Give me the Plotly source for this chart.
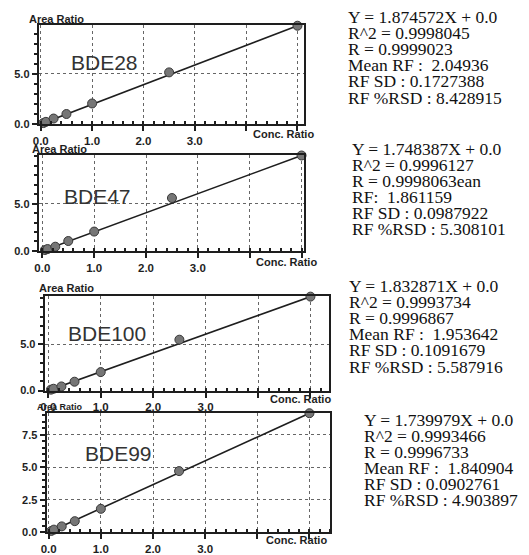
import plotly.graph_objects as go

# The page body has an 8px default margin, so the figure is drawn 8px in
# from the top-left corner; size it to fill the rest of the 529x555 window.
OFF = 8
W, H = 529 - OFF, 555 - OFF

# ---------------- data ----------------
compounds = ["BDE28", "BDE47", "BDE100", "BDE99"]
conc_ratio = [0.05, 0.1, 0.25, 0.5, 1.0, 2.5, 5.0]
area_bde28 = [0.10, 0.22, 0.55, 1.00, 2.05, 5.15, 9.80]
area_bde47 = [0.10, 0.20, 0.45, 1.05, 2.05, 5.60, 10.10]
area_bde100 = [0.10, 0.20, 0.45, 0.96, 2.00, 5.50, 10.15]
area_bde99 = [0.10, 0.20, 0.45, 0.85, 1.80, 4.70, 9.15]
fit_x = [0.0, 5.0]
fit_end_bde28 = 9.80
fit_end_bde47 = 10.10
fit_end_bde100 = 10.15
fit_end_bde99 = 9.15

x_tick_vals = [0, 1, 2, 3, 4, 5]
x_tick_text = ["0.0", "1.0", "2.0", "3.0", "", ""]
y_ticks_std = [0, 5]
y_ticks_std_text = ["0.0", "5.0"]
y_ticks_99 = [0, 2.5, 5, 7.5]
y_ticks_99_text = ["0.0", "2.5", "5.0", "7.5"]

stats_bde28 = ["Y = 1.874572X + 0.0", "R^2 = 0.9998045", "R = 0.9999023",
               "Mean RF :  2.04936", "RF SD : 0.1727388", "RF %RSD : 8.428915"]
stats_bde47 = ["Y = 1.748387X + 0.0", "R^2 = 0.9996127", "R = 0.9998063ean",
               "RF:  1.861159", "RF SD : 0.0987922", "RF %RSD : 5.308101"]
stats_bde100 = ["Y = 1.832871X + 0.0", "R^2 = 0.9993734", "R = 0.9996867",
                "Mean RF :  1.953642", "RF SD : 0.1091679", "RF %RSD : 5.587916"]
stats_bde99 = ["Y = 1.739979X + 0.0", "R^2 = 0.9993466", "R = 0.9996733",
               "Mean RF :  1.840904", "RF SD : 0.0902761", "RF %RSD : 4.903897"]


def px(x):
    return (x - OFF) / W


def py(y):
    return 1 - (y - OFF) / H


# ---------------- layout geometry (window pixels) ----------------
panels = [
    dict(name=compounds[0], y=area_bde28, fe=fit_end_bde28, box=(33, 301, 25, 126),
         xr=(-0.04, 5.12), yr=(0, 9.9), yt=y_ticks_std, ytt=y_ticks_std_text,
         label=(100, 63), area=(51, 19, 11), conc=(281, 136), stats=stats_bde28, st=(344, 17.5)),
    dict(name=compounds[1], y=area_bde47, fe=fit_end_bde47, box=(33, 301, 157, 255),
         xr=(-0.07, 5.04), yr=(0, 10.2), yt=y_ticks_std, ytt=y_ticks_std_text,
         label=(92, 200), area=(54, 151.5, 11), conc=(284, 266), stats=stats_bde47, st=(348, 151)),
    dict(name=compounds[2], y=area_bde100, fe=fit_end_bde100, box=(39, 327, 301, 397),
         xr=(-0.07, 5.36), yr=(0, 10.2), yt=y_ticks_std, ytt=y_ticks_std_text,
         label=(102, 339), area=(61, 293, 11), conc=(298, 406), stats=stats_bde100, st=(345, 291)),
    dict(name=compounds[3], y=area_bde99, fe=fit_end_bde99, box=(41, 328, 420, 541),
         xr=(-0.04, 5.4), yr=(0, 9.15), yt=y_ticks_99, ytt=y_ticks_99_text,
         label=(114, 461), area=(55, 414, 9), conc=(294, 549), stats=stats_bde99, st=(360, 427)),
]

INK = "#1e1e1e"
fig = go.Figure()
annotations = []
layout = dict(width=W, height=H, margin=dict(l=0, r=0, t=0, b=0),
              paper_bgcolor="white", plot_bgcolor="white", showlegend=False)

for i, p in enumerate(panels):
    n = "" if i == 0 else str(i + 1)
    xa, ya = "x" + n, "y" + n
    l, r, t, b = p["box"]
    fig.add_trace(go.Scatter(x=fit_x, y=[0, p["fe"]], mode="lines", xaxis=xa, yaxis=ya,
                             line=dict(color=INK, width=1.6), hoverinfo="skip",
                             cliponaxis=False))
    fig.add_trace(go.Scatter(x=conc_ratio, y=p["y"], mode="markers", xaxis=xa, yaxis=ya,
                             marker=dict(size=9, color="#767676", line=dict(color="#383838", width=1)),
                             cliponaxis=False))
    layout["xaxis" + n] = dict(
        domain=[px(l), px(r)], range=list(p["xr"]), anchor=ya,
        tickvals=x_tick_vals, ticktext=x_tick_text, ticks="outside", ticklen=5,
        tickwidth=1.5, tickcolor=INK,
        minor=dict(dtick=0.2, tick0=0, ticks="inside", ticklen=3, tickcolor=INK, showgrid=False),
        showline=True, linecolor=INK, linewidth=2, mirror=True,
        showgrid=True, gridcolor="#666666", griddash="dot", gridwidth=1,
        zeroline=False, tickfont=dict(family="Liberation Sans", size=11.5, color=INK, weight="bold"),
        fixedrange=True)
    layout["yaxis" + n] = dict(
        domain=[py(b), py(t)], range=list(p["yr"]), anchor=xa,
        tickvals=p["yt"], ticktext=p["ytt"], ticks="outside", ticklen=5,
        tickwidth=1.5, tickcolor=INK,
        minor=dict(dtick=1 if i < 3 else 0.5, tick0=0, ticks="outside", ticklen=3,
                   tickcolor=INK, showgrid=False),
        showline=True, linecolor=INK, linewidth=2, mirror=True,
        showgrid=True, gridcolor="#666666", griddash="dot", gridwidth=1,
        zeroline=False, tickfont=dict(family="Liberation Sans", size=11, color=INK, weight="bold"),
        fixedrange=True)
    # compound label
    annotations.append(dict(x=px(p["label"][0]), y=py(p["label"][1]), xref="paper", yref="paper",
                            text=p["name"], showarrow=False, xanchor="center", yanchor="middle",
                            font=dict(family="Liberation Sans", size=21, color="#333333")))
    # axis titles
    ax_, ay_, asz = p["area"]
    annotations.append(dict(x=px(ax_), y=py(ay_), xref="paper", yref="paper",
                            text="Area Ratio", showarrow=False, xanchor="center", yanchor="middle",
                            font=dict(family="Liberation Sans", size=asz, color=INK, weight="bold")))
    annotations.append(dict(x=px(p["conc"][0]), y=py(p["conc"][1]), xref="paper", yref="paper",
                            text="Conc. Ratio", showarrow=False, xanchor="center", yanchor="middle",
                            font=dict(family="Liberation Sans", size=11, color=INK, weight="bold")))
    # statistics text block
    sx, sy = p["st"]
    for k, line in enumerate(p["stats"]):
        annotations.append(dict(x=px(sx), y=py(sy + 16.3 * k), xref="paper", yref="paper",
                                text=line, showarrow=False, xanchor="left", yanchor="middle",
                                font=dict(family="Liberation Serif", size=17.5, color="#111111")))

layout["annotations"] = annotations
fig.update_layout(**layout)
fig.write_html("out.html")
